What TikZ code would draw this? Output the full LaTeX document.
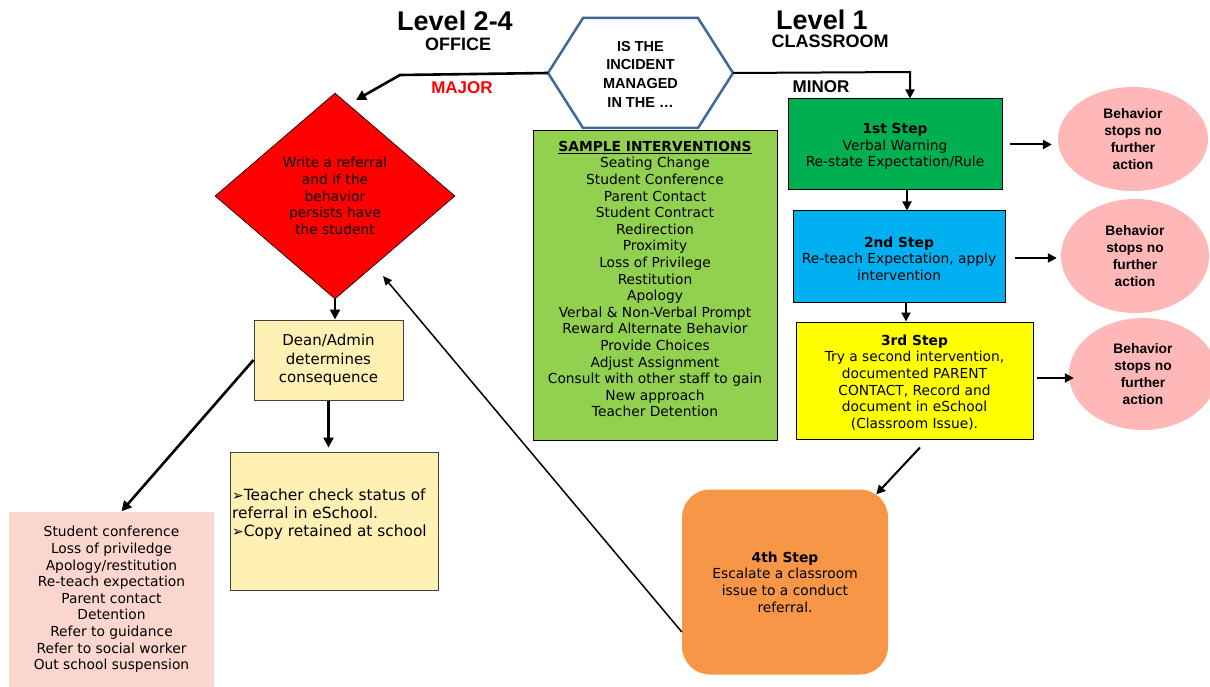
\documentclass[tikz,border=0pt]{standalone}
\usepackage{fontspec}
\setmainfont{DejaVu Sans}
\newfontfamily\hdr{Liberation Sans}
\usetikzlibrary{shapes.geometric,arrows.meta,calc}
\definecolor{stepgreen}{HTML}{00B050}
\definecolor{stepblue}{HTML}{00B0F0}
\definecolor{stepyellow}{HTML}{FFFF00}
\definecolor{steporange}{HTML}{F79646}
\definecolor{intgreen}{HTML}{92D050}
\definecolor{cream}{HTML}{FFF0B4}
\definecolor{salmon}{HTML}{FBD6CC}
\definecolor{ellpink}{HTML}{FFB7B7}
\definecolor{hexblue}{HTML}{41679A}
\definecolor{boxgray}{HTML}{404040}
\begin{document}
\begin{tikzpicture}[x=1pt,y=-1pt,
  body/.style={font=\fontsize{13.8}{16.6}\selectfont, align=center, text=black},
  stepbox/.style={draw=black, line width=1pt, inner sep=0pt, body},
  creambox/.style={draw=boxgray, line width=1pt, fill=cream, inner sep=0pt, body},
  stopell/.style={ellipse, fill=ellpink, inner sep=0pt, align=center,
     font=\hdr\bfseries\fontsize{13.8}{17}\selectfont},
  bigarrow/.style={line width=2.6pt, -{Triangle[length=10pt,width=10pt]}},
  midarrow/.style={line width=2pt, -{Triangle[length=9pt,width=9pt]}},
  thinarrow/.style={line width=1.5pt, -{Triangle[length=9pt,width=8pt]}},
  hdrbig/.style={font=\hdr\bfseries\fontsize{27}{30}\selectfont, inner sep=0pt},
  hdrsmall/.style={font=\hdr\bfseries\fontsize{18}{20}\selectfont, inner sep=0pt},
  branch/.style={font=\hdr\bfseries\fontsize{17}{20}\selectfont, inner sep=0pt}
]
\useasboundingbox (0,0) rectangle (1210,687);
\clip (0,0) rectangle (1210,687);

% headers
\node[hdrsmall] (office) at (458,44) {OFFICE};
\node[hdrbig] (lvl24) at (455,21) {Level 2-4};
\node[hdrbig] (lvl1) at (822,20) {Level 1};
\node[hdrsmall] (classroom) at (830,41) {CLASSROOM};
\node[branch, text=red] (major) at (462,88) {MAJOR};
\node[branch] (minor) at (821,87) {MINOR};

% hexagon
\coordinate (hL) at (548,73);
\coordinate (hR) at (733,73);
\draw[hexblue, line width=2.5pt, line join=miter]
  (hL) -- (583,18) -- (698,18) -- (hR) -- (698,128) -- (583,128) -- cycle;
\node[font=\hdr\bfseries\fontsize{14.5}{18.7}\selectfont, align=center] (hex) at (640.5,74)
  {IS THE\\INCIDENT\\MANAGED\\IN THE \dots};

% diamond
\node[diamond, draw=black, line width=0.6pt, fill=red, minimum width=240pt,
  minimum height=206pt, inner sep=0pt, body] (dia) at (335,196)
  {Write a referral\\and if the\\behavior\\persists have\\the student};

% dean box
\node[creambox, minimum width=149pt, minimum height=80pt,
  font=\fontsize{15}{18.5}\selectfont] (dean) at (328.5,360)
  {Dean/Admin\\determines\\consequence};

% teacher box
\node[creambox, minimum width=208pt, minimum height=138pt] (teacher) at (334,521) {};
\node[font=\fontsize{15.4}{18}\selectfont, align=left, inner sep=0pt, anchor=west] (teachertext) at (232,514)
  {{\fontsize{14}{14}\selectfont ➢}Teacher check status of\\
   referral in eSchool.\\
   {\fontsize{14}{14}\selectfont ➢}Copy retained at school};

% pink box
\node[fill=salmon, minimum width=205pt, minimum height=176pt, inner sep=0pt, body] (pink) at (111.5,599.5)
  {Student conference\\Loss of priviledge\\Apology/restitution\\Re-teach expectation\\Parent contact\\Detention\\Refer to guidance\\Refer to social worker\\Out school suspension};

% interventions
\node[stepbox, fill=intgreen, minimum width=244pt, minimum height=309pt] (inter) at (655,285.5) {};
\node[body, inner sep=0pt] (intertext) at (655,279)
  {\textbf{\underline{SAMPLE INTERVENTIONS}}\\Seating Change\\Student Conference\\Parent Contact\\Student Contract\\Redirection\\Proximity\\Loss of Privilege\\Restitution\\Apology\\Verbal \& Non-Verbal Prompt\\Reward Alternate Behavior\\Provide Choices\\Adjust Assignment\\Consult with other staff to gain\\New approach\\Teacher Detention};

% steps
\node[stepbox, fill=stepgreen, minimum width=214pt, minimum height=91pt] (s1) at (895,144.5) {};
\node[body, inner sep=0pt] (s1text) at (895,146.5)
  {\textbf{1st Step}\\Verbal Warning\\Re-state Expectation/Rule};
\node[stepbox, fill=stepblue, minimum width=212pt, minimum height=91pt] (s2) at (899,256.5) {};
\node[body, inner sep=0pt] (s2text) at (899,258.5)
  {\textbf{2nd Step}\\Re-teach Expectation, apply\\intervention};
\node[stepbox, fill=stepyellow, minimum width=237pt, minimum height=117pt] (s3) at (914.5,380.5) {};
\node[body, inner sep=0pt] (s3text) at (914.5,382.5)
  {\textbf{3rd Step}\\Try a second intervention,\\documented PARENT\\CONTACT, Record and\\document in eSchool\\(Classroom Issue).};
\node[fill=steporange, rounded corners=28pt, minimum width=206pt, minimum height=185pt, inner sep=0pt, body] (s4) at (785,582)
  {\textbf{4th Step}\\Escalate a classroom\\issue to a conduct\\referral.};

% ellipses
\node[stopell, minimum width=150pt, minimum height=104pt] (e1) at (1133,139) {Behavior\\stops no\\further\\action};
\node[stopell, minimum width=148pt, minimum height=114pt] (e2) at (1135,256) {Behavior\\stops no\\further\\action};
\node[stopell, minimum width=148pt, minimum height=112pt] (e3) at (1143,374) {Behavior\\stops no\\further\\action};

% connectors
\coordinate (mj) at (400,75);
\coordinate (dtip) at (356,100);
\draw[bigarrow, line join=round] (hL) -- (mj) -- (dtip);
\coordinate (mn) at (910,72);
\draw[midarrow, line join=miter] (hR) -- (mn) -- (mn |- s1.north);

\draw[bigarrow] (dia.south) -- (dia.south |- dean.north);
\draw[bigarrow] (dean.south) -- ([yshift=4pt]dean.south |- teacher.north);
\draw[bigarrow] (dean.west) -- ([xshift=10pt]pink.north);

\draw[midarrow] ([xshift=12pt]s1.south) -- ([xshift=12pt]s1.south |- s2.north);
\draw[midarrow] ([xshift=7pt]s2.south) -- ([xshift=7pt]s2.south |- s3.north);

\draw[midarrow] ([xshift=7pt]s1.east) -- ([xshift=-6pt]s1.east -| e1.west);
\draw[midarrow] ([xshift=9pt,yshift=-1.5pt]s2.east) -- ([xshift=-4pt,yshift=-1.5pt]s2.east -| e2.west);
\draw[midarrow] ([xshift=3pt,yshift=2.5pt]s3.east) -- ([xshift=5pt,yshift=2.5pt]s3.east -| e3.west);

\coordinate (s3out) at ([xshift=5.5pt,yshift=-8pt]s3.south);
\draw[midarrow] (s3out) -- ([xshift=-12pt,yshift=-5pt]s4.north east);

\coordinate (dref) at (383,276);
\draw[thinarrow] ([yshift=-50pt]s4.west) -- (dref);
\end{tikzpicture}
\end{document}
